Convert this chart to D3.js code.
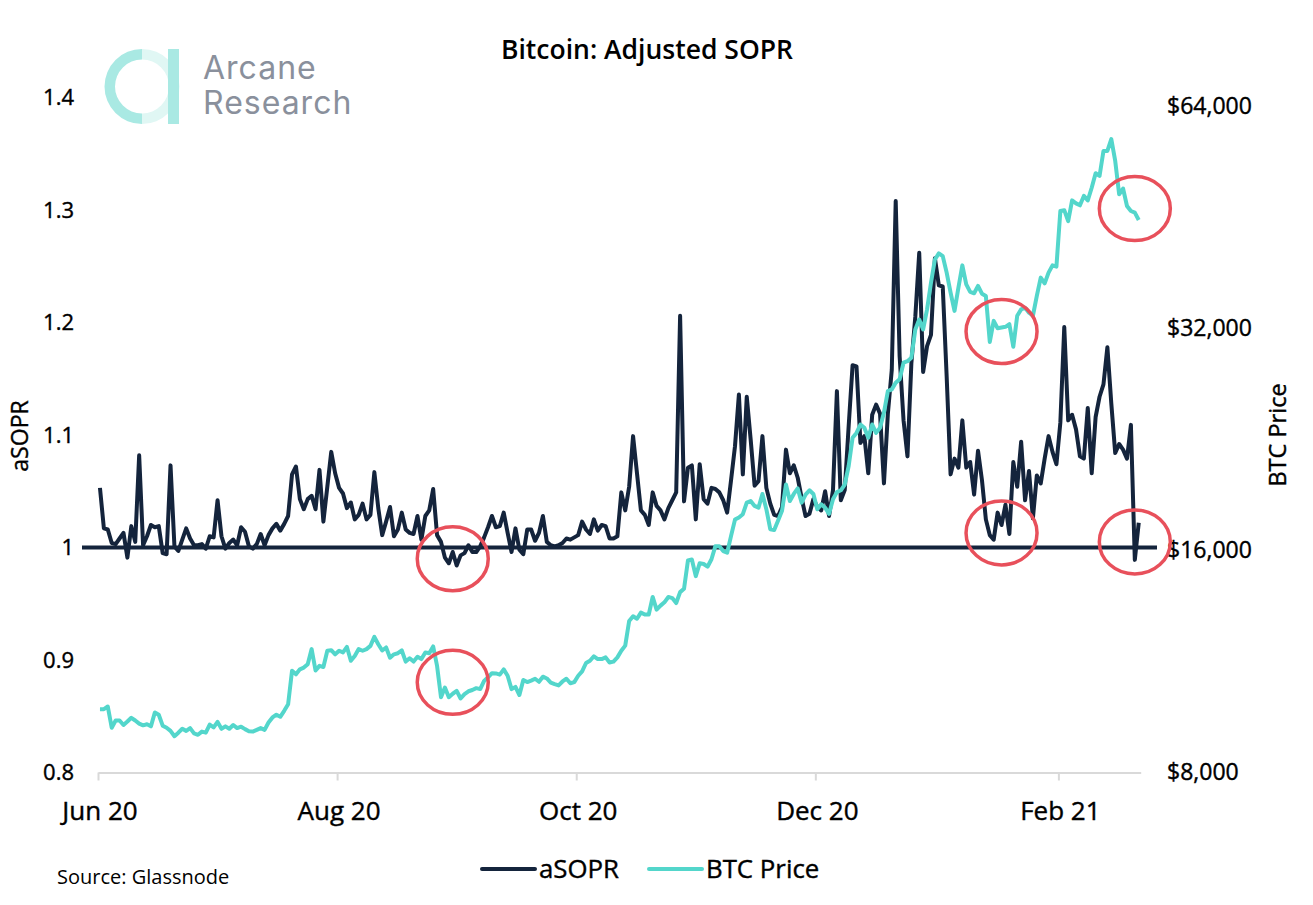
<!DOCTYPE html>
<html>
<head>
<meta charset="utf-8">
<script src="https://cdn.jsdelivr.net/npm/d3@7/dist/d3.min.js"></script>
<style>
  html, body { margin: 0; padding: 0; background: #fff; }
  text { font-family: "Open Sans", "Noto Sans", sans-serif; fill: #000; }
  .medium { stroke: #000; stroke-width: 0.4px; }
</style>
</head>
<body>
<div id="chart"></div>
<script>
// daily values, 1 Jun 2020 to 21 Feb 2021
var asopr = [
  1.053,1.017,1.016,1.004,1.003,1.008,1.013,.991,1.019,1.005,
  1.082,1.002,1.01,1.02,1.018,1.019,.995,.994,1.073,1.001,
  .997,1.007,1.017,1.008,1.002,1.002,1.003,.999,1.01,1.009,
  1.042,1.01,.999,1.004,1.007,1.002,1.018,1.014,1.001,.999,
  1.003,1.012,1.002,1.011,1.017,1.021,1.015,1.021,1.028,1.065,
  1.072,1.043,1.034,1.043,1.046,1.034,1.069,1.023,1.054,1.085,
  1.066,1.053,1.048,1.035,1.04,1.025,1.029,1.039,1.025,1.029,
  1.067,1.035,1.011,1.023,1.036,1.01,1.016,1.031,1.016,1.013,
  1.012,1.028,1.007,1.028,1.033,1.052,1.011,1.005,.991,.986,
  .996,.984,.993,.995,1.002,.996,.996,1.001,1.009,1.018,
  1.028,1.018,1.019,1.031,1.013,.996,1.017,.998,.994,1.016,
  1.016,1.006,1.013,1.028,1.005,1.002,1.001,1.002,1.004,1.008,
  1.007,1.009,1.011,1.023,1.016,1.012,1.025,1.015,1.02,1.019,
  1.008,1.008,1.01,1.049,1.033,1.054,1.099,1.066,1.033,1.029,
  1.02,1.049,1.037,1.033,1.025,1.035,1.042,1.049,1.206,1.041,
  1.071,1.073,1.025,1.074,1.043,1.039,1.053,1.052,1.049,1.042,
  1.031,1.06,1.09,1.136,1.065,1.134,1.096,1.055,1.059,1.099,
  1.053,1.039,1.029,1.028,1.036,1.087,1.066,1.073,1.062,1.044,
  1.028,1.03,1.043,1.036,1.033,1.05,1.028,1.051,1.139,1.042,
  1.051,1.108,1.162,1.161,1.093,1.099,1.066,1.118,1.127,1.119,
  1.057,1.119,1.158,1.308,1.17,1.113,1.081,1.164,1.205,1.262,
  1.156,1.179,1.189,1.257,1.233,1.232,1.152,1.065,1.079,1.071,
  1.113,1.071,1.076,1.047,1.086,1.06,1.025,1.011,1.007,1.031,
  1.02,1.038,1.012,1.076,1.054,1.094,1.042,1.068,1.026,1.064,
  1.057,1.079,1.099,1.085,1.074,1.111,1.196,1.113,1.118,1.105,
  1.081,1.079,1.124,1.066,1.116,1.134,1.145,1.178,1.128,1.084,
  1.092,1.087,1.079,1.109,.989,1.022
];
var btcPrice = [
  9750,9750,9830,9200,9410,9410,9280,9380,9490,9410,
  9320,9270,9300,9240,9650,9580,9260,9200,9110,8960,
  9060,9170,9110,9190,9040,9000,9090,9060,9290,9210,
  9370,9170,9240,9170,9280,9190,9230,9160,9100,9090,
  9140,9190,9140,9350,9500,9580,9520,9700,9900,10990,
  10870,11040,11100,11220,11760,11000,11160,11120,11700,11720,
  11570,11700,11640,11840,11340,11510,11760,11700,11760,11880,
  12220,11940,11710,11820,11450,11570,11610,11710,11310,11430,
  11310,11480,11400,11640,11610,11860,11160,10120,10430,10120,
  10230,10320,10080,10220,10310,10350,10410,10380,10650,10770,
  10910,10900,10860,11040,10820,10380,10450,10190,10680,10610,
  10660,10720,10620,10790,10730,10590,10540,10500,10630,10720,
  10570,10610,10820,10970,11260,11340,11500,11400,11400,11460,
  11280,11310,11460,11700,11890,12840,13030,12930,13180,13100,
  13100,13840,13300,13470,13610,13840,13790,13580,14050,14200,
  15510,15560,14770,15380,15340,15210,15570,16220,16220,15970,
  15890,16750,17620,17740,17920,18580,18670,18390,18290,19090,
  18200,17100,17060,17570,18110,19660,18670,19090,19420,18580,
  19050,19310,19090,18200,18480,18290,17940,18780,19200,19310,
  19660,20830,22750,23100,23710,23470,22750,23710,23100,23470,
  24610,26320,26460,27010,27310,28760,28900,29210,31910,32910,
  31910,33970,36920,39690,40460,40110,38100,35780,33810,36350,
  38970,36730,35870,35720,36550,35670,35420,30690,32770,32030,
  32100,32170,32430,30230,33300,33970,34150,33620,33300,35420,
  37510,36840,38100,38970,38810,46180,46300,44750,47740,47300,
  47010,48410,47740,49660,51960,51520,55700,55700,57800,53990,
  48660,49540,46910,46180,45950,44910
];
var leftTicks = [0.8, 0.9, 1, 1.1, 1.2, 1.3, 1.4];
var rightTicks = [8000, 16000, 32000, 64000];
var xTicks = ['2020-06-01', '2020-08-01', '2020-10-01', '2020-12-01', '2021-02-01'];
// red rings: day number, series the ring sits on, value at its centre
var ringDays = [90, 90, 230, 230, 264, 264];
var ringSeries = ['asopr', 'btc', 'btc', 'asopr', 'btc', 'asopr'];
var ringValues = [0.990, 10600, 31700, 1.013, 46530, 1.005];

var width = 1313, height = 905;
var dark = '#14243c', teal = '#53d6cb', red = '#e8505b';

var parseDay = d3.utcParse('%Y-%m-%d');
var start = parseDay('2020-06-01');
var dates = asopr.map(function(d, i) { return d3.utcDay.offset(start, i); });
// one band per day, ticks on the left edge of the band
var x = d3.scaleUtc().domain([start, d3.utcDay.offset(start, asopr.length)]).range([98, 1140.7]);
var xMid = function(i) { return x(d3.utcHour.offset(dates[0], i * 24 + 12)); };
var yLeft = d3.scaleLinear().domain([0.8, 1.4]).range([772.5, 97.5]);
var yRight = d3.scaleLog().base(2).domain([8000, 64000]).range([772.5, 106.5]);

var svg = d3.select('#chart').append('svg')
  .attr('width', width).attr('height', height)
  .style('display', 'block');

// logo
var logo = svg.append('g').attr('transform', 'translate(142,86.5)');
var ring = d3.arc().innerRadius(27).outerRadius(37.5);
logo.append('path').attr('d', ring({startAngle: 0, endAngle: Math.PI})).attr('fill', '#e0f7f4');
logo.append('path').attr('d', ring({startAngle: Math.PI, endAngle: 2 * Math.PI})).attr('fill', '#a9e9e3');
logo.append('rect').attr('x', 26).attr('y', -37.5).attr('width', 11).attr('height', 75).attr('fill', '#a9e9e3');
svg.append('text').attr('x', 203).attr('y', 79).text('Arcane')
  .style('font-family', 'Inter').style('font-size', '32px').style('letter-spacing', '1px').style('fill', '#8a909c');
svg.append('text').attr('x', 203).attr('y', 114).text('Research')
  .style('font-family', 'Inter').style('font-size', '32px').style('letter-spacing', '1px').style('fill', '#8a909c');

// title
svg.append('text').attr('x', 647).attr('y', 59).attr('text-anchor', 'middle')
  .style('font-size', '26.5px').style('font-weight', 600).text('Bitcoin: Adjusted SOPR');

// axes
var xAxis = d3.axisBottom(x)
  .tickValues(xTicks.map(parseDay))
  .tickFormat(d3.utcFormat('%b %y'))
  .tickSizeOuter(0).tickSizeInner(8).tickPadding(21);
var gx = svg.append('g').attr('transform', 'translate(0,772.5)').call(xAxis);
gx.select('.domain').attr('stroke', '#d9d9d9').attr('stroke-width', 2);
gx.selectAll('.tick line').attr('stroke', '#d9d9d9').attr('stroke-width', 2);
gx.selectAll('text').attr('class', 'medium').attr('dx', 1.5).style('font-size', '26px');

var gl = svg.append('g').attr('transform', 'translate(98,0)')
  .call(d3.axisLeft(yLeft).tickValues(leftTicks).tickFormat(d3.format('')).tickSize(0).tickPadding(24));
gl.select('.domain').remove();
gl.selectAll('text').attr('class', 'medium').style('font-size', '22px');

var gr = svg.append('g').attr('transform', 'translate(1141,0)')
  .call(d3.axisRight(yRight).tickValues(rightTicks).tickFormat(d3.format('$,')).tickSize(0).tickPadding(26));
gr.select('.domain').remove();
gr.selectAll('text').attr('class', 'medium').style('font-size', '23px');

svg.append('text').attr('class', 'medium').attr('transform', 'translate(28,436) rotate(-90)').attr('text-anchor', 'middle')
  .style('font-size', '23px').text('aSOPR');
svg.append('text').attr('class', 'medium').attr('transform', 'translate(1286,435) rotate(-90)').attr('text-anchor', 'middle')
  .style('font-size', '23.5px').text('BTC Price');

// line at 1
svg.append('line')
  .attr('x1', 82).attr('x2', 1157)
  .attr('y1', yLeft(1)).attr('y2', yLeft(1))
  .attr('stroke', dark).attr('stroke-width', 4);

var asoprLine = d3.line().x(function(d, i) { return xMid(i); }).y(function(d) { return yLeft(d); });
var btcLine = d3.line().x(function(d, i) { return xMid(i); }).y(function(d) { return yRight(d); });

svg.append('path').attr('d', asoprLine(asopr))
  .attr('fill', 'none').attr('stroke', dark).attr('stroke-width', 4).attr('stroke-linejoin', 'round');
svg.append('path').attr('d', btcLine(btcPrice))
  .attr('fill', 'none').attr('stroke', teal).attr('stroke-width', 4).attr('stroke-linejoin', 'round');

// rings
svg.selectAll('.ring').data(ringDays).enter().append('ellipse')
  .attr('class', 'ring')
  .attr('cx', function(d) { return xMid(d); })
  .attr('cy', function(d, i) { return ringSeries[i] === 'btc' ? yRight(ringValues[i]) : yLeft(ringValues[i]); })
  .attr('rx', 35.5).attr('ry', 32)
  .attr('fill', 'none').attr('stroke', red).attr('stroke-width', 3.5);

// legend
var legendItems = [
  {name: 'aSOPR', color: dark, x: 482},
  {name: 'BTC Price', color: teal, x: 649}
];
var lg = svg.selectAll('.legend').data(legendItems).enter().append('g')
  .attr('class', 'legend').attr('transform', function(d) { return 'translate(' + d.x + ',869)'; });
lg.append('line').attr('x1', 0).attr('x2', 53).attr('stroke', function(d) { return d.color; })
  .attr('stroke-width', 4).attr('stroke-linecap', 'round');
lg.append('text').attr('class', 'medium').attr('x', 57).attr('y', 9).style('font-size', '25.8px')
  .text(function(d) { return d.name; });

svg.append('text').attr('x', 57).attr('y', 884).style('font-size', '20px').text('Source: Glassnode');
</script>
</body>
</html>
